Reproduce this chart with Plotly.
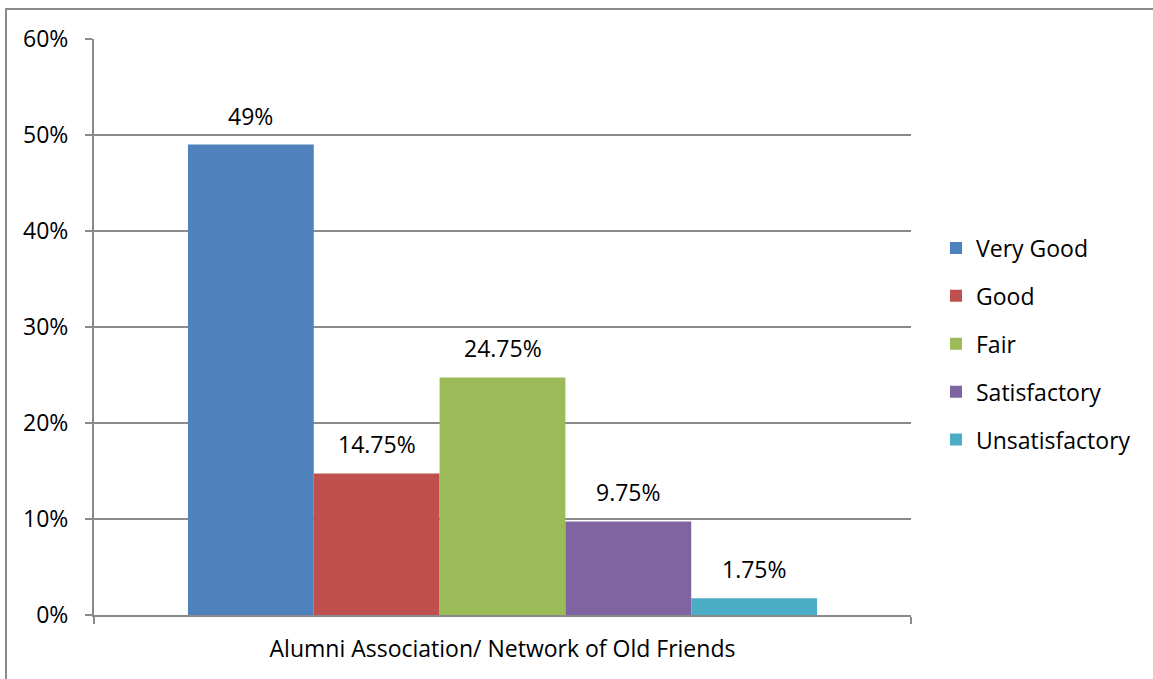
import plotly.graph_objects as go

category = ["Alumni Association/ Network of Old Friends"]
series_names = ["Very Good", "Good", "Fair", "Satisfactory", "Unsatisfactory"]
values = [0.49, 0.1475, 0.2475, 0.0975, 0.0175]
labels = ["49%", "14.75%", "24.75%", "9.75%", "1.75%"]
colors = ["#4F81BD", "#C0504D", "#9BBB59", "#8064A2", "#4BACC6"]
y_ticks = [0, 0.1, 0.2, 0.3, 0.4, 0.5, 0.6]
y_ticktext = ["0%", "10%", "20%", "30%", "40%", "50%", "60%"]

FONT = "Open Sans"
FS = 23
BARGAP = 0.23
GRAY = "#8a8a8a"
fig = go.Figure()
for name, v, c in zip(series_names, values, colors):
    fig.add_trace(go.Bar(
        x=category, y=[v], name=name, marker=dict(color=c, line=dict(width=0)),
        legendgroup=name,
    ))

# value labels above each bar (positions derived from grouped-bar geometry)
n = len(values)
group_w = 1 - BARGAP
bar_w = group_w / n
annotations = []
for i, (v, lab) in enumerate(zip(values, labels)):
    xc = -group_w / 2 + bar_w * (i + 0.5)
    annotations.append(dict(x=xc, y=v, xref="x", yref="y", text=lab, showarrow=False,
                            yanchor="bottom", yshift=11,
                            font=dict(size=FS, family=FONT, color="#000000")))

fig.update_layout(
    width=1153, height=679,
    margin=dict(l=94, r=242, t=39, b=64, autoexpand=False),
    paper_bgcolor="white", plot_bgcolor="white",
    barmode="group", bargap=BARGAP, bargroupgap=0,
    font=dict(family=FONT, size=FS, color="#000000"),
    showlegend=True,
    legend=dict(x=(936 - 94) / 817, xanchor="left", xref="paper", y=(615 - 344) / 576, yanchor="middle",
                font=dict(size=FS, family=FONT), tracegroupgap=15,
                itemwidth=30, bgcolor="rgba(0,0,0,0)"),
    xaxis=dict(showline=True, linecolor=GRAY, linewidth=2, ticks="outside",
               tickson="boundaries", ticklen=7, tickcolor=GRAY, tickwidth=2,
               tickfont=dict(size=FS, family=FONT), showgrid=False, ticklabelstandoff=12,
               range=[-0.5, 0.5]),
    yaxis=dict(range=[0, 0.6], tickvals=y_ticks, ticktext=y_ticktext,
               showline=True, linecolor=GRAY, linewidth=2, ticks="outside",
               ticklen=7, tickcolor=GRAY, tickwidth=2,
               showgrid=True, gridcolor=GRAY, gridwidth=1.6, zeroline=False,
               tickfont=dict(size=FS, family=FONT), ticklabelstandoff=12),
    annotations=annotations,
    shapes=[dict(type="rect", xref="paper", yref="paper",
                 x0=(6 - 94) / 817, x1=(1170 - 94) / 817,
                 y0=(615 - 700) / 576, y1=(615 - 9) / 576,
                 line=dict(color=GRAY, width=2), fillcolor="rgba(0,0,0,0)", layer="below")],
)

fig.write_html("out.html", config={"displayModeBar": False},
               post_script="document.body.style.margin='0px';")
